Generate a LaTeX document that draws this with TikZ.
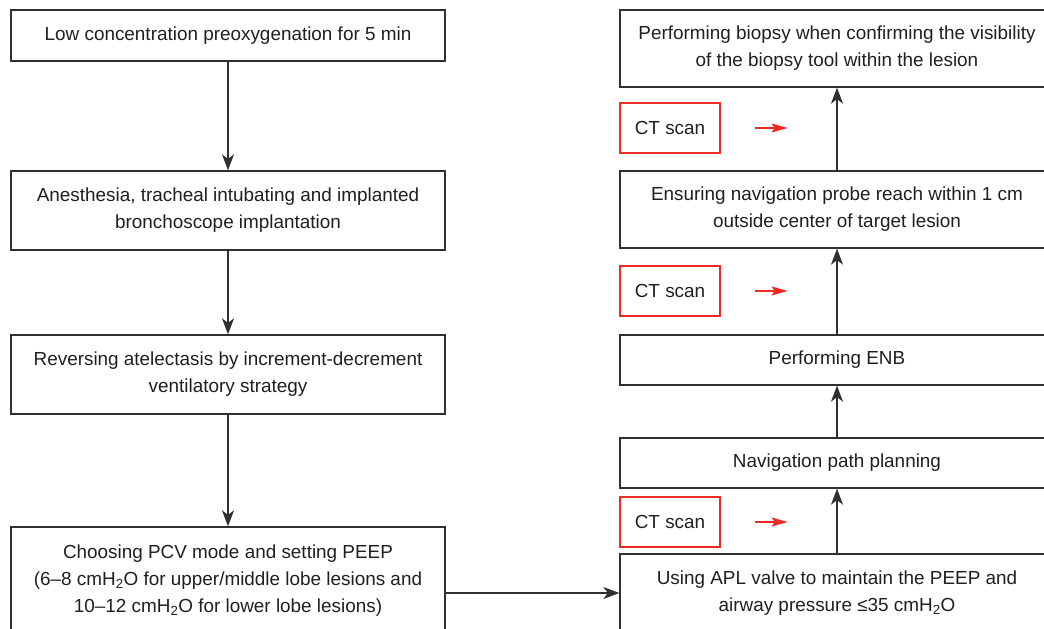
\documentclass[tikz,border=0pt]{standalone}
\usepackage{fontspec}
\setmainfont{Liberation Sans}
\usetikzlibrary{arrows.meta,positioning}
\definecolor{boxline}{HTML}{303030}
\definecolor{ctred}{HTML}{EE2A24}
\tikzstyle{block} = [rectangle, draw=boxline, line width=1.3pt, text=black!88,
    align=center, minimum width=434pt, inner sep=0pt,
    font=\fontsize{18.9}{27}\selectfont]
\tikzstyle{ctbox} = [rectangle, draw=ctred, line width=1.2pt, text=black!88,
    minimum width=100pt, minimum height=50pt, inner sep=0pt,
    font=\fontsize{18.9}{27}\selectfont]
\begin{document}
\begin{tikzpicture}[x=1pt,y=-1pt,>={Stealth[length=16pt,width=12pt,inset=4.5pt]},
                    line width=1.3pt]
  \useasboundingbox (0,0) rectangle (1044,629);
  \clip (0,0) rectangle (1044,629);

  % left column
  \node[block, minimum height=51pt]  (preox)  at (228,35.5)  {Low concentration preoxygenation for 5 min};
  \node[block, minimum height=79pt]  (anest)  at (228,210.5) {Anesthesia, tracheal intubating and implanted\\bronchoscope implantation};
  \node[block, minimum height=79pt]  (atel)   at (228,374.5) {Reversing atelectasis by increment-decrement\\ventilatory strategy};
  \node[block, minimum height=107pt] (pcv)    at (228,580.5) {Choosing PCV mode and setting PEEP\\(6--8 cmH\textsubscript{2}O for upper/middle lobe lesions and\\10--12 cmH\textsubscript{2}O for lower lobe lesions)};

  % right column
  \node[block, minimum height=78pt]  (apl)    at (837,593)   {Using APL valve to maintain the PEEP and\\airway pressure ≤35 cmH\textsubscript{2}O};
  \node[block, minimum height=50pt]  (path)   at (837,463)   {Navigation path planning};
  \node[block, minimum height=50pt]  (enb)    at (837,360)   {Performing ENB};
  \node[block, minimum height=77pt]  (probe)  at (837,209.5) {Ensuring navigation probe reach within 1 cm\\outside center of target lesion};
  \node[block, minimum height=77pt]  (biopsy) at (837,48.5)  {Performing biopsy when confirming the visibility\\of the biopsy tool within the lesion};

  % CT scans
  \node[ctbox] (ct1) at (670,128) {CT scan};
  \node[ctbox] (ct2) at (670,291) {CT scan};
  \node[ctbox] (ct3) at (670,522) {CT scan};

  \path[boxline]
        (preox) edge[->] (anest)
        (anest) edge[->] (atel)
        (atel)  edge[->] (pcv)
        (apl.west -| pcv.east) edge[->] (apl.west)
        (apl)   edge[->] (path)
        (path)  edge[->] (enb)
        (enb)   edge[->] (probe)
        (probe) edge[->] (biopsy);

  \foreach \ct in {ct1,ct2,ct3}
    \draw[->, ctred, line width=1.2pt, >={Stealth[length=16pt,width=9pt,inset=3pt]}]
      ([xshift=34pt]\ct.east) -- ++(33,0);
\end{tikzpicture}
\end{document}
